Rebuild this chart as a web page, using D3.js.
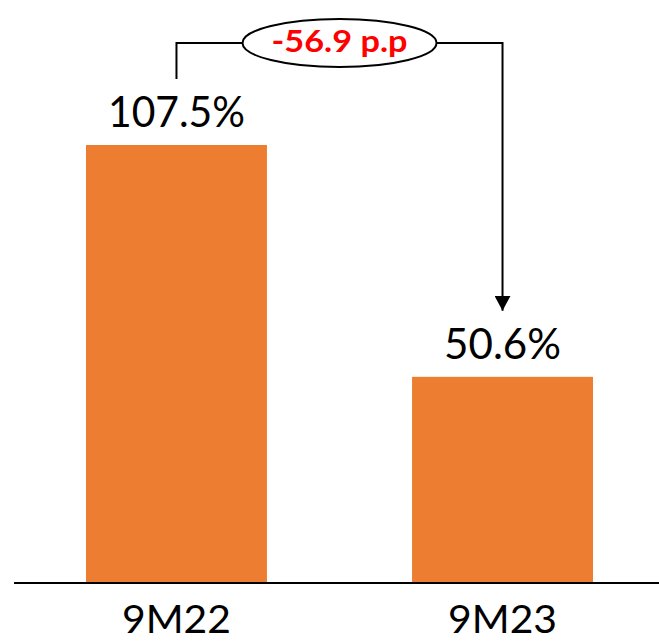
<!DOCTYPE html>
<html>
<head>
<meta charset="utf-8">
<script src="https://cdn.jsdelivr.net/npm/d3@7"></script>
<style>
  html, body { margin: 0; padding: 0; background: #fff; }
  svg { display: block; }
</style>
</head>
<body>
<svg id="chart" width="659" height="642"></svg>
<script>
// Data
const categories = ["9M22", "9M23"];
const values = [107.5, 50.6];
const valueLabels = ["107.5%", "50.6%"];
const changeLabel = "-56.9 p.p";

const W = 659, H = 642;
const baseY = 583;
const svg = d3.select("#chart");

const x = d3.scaleBand()
  .domain(categories)
  .range([13, 666])
  .paddingInner(0.445)
  .paddingOuter(0.2239);

const y = d3.scaleLinear()
  .domain([0, 143.09])
  .range([baseY, 0]);

const font = "Lato, 'Noto Sans', sans-serif";

// Bars
svg.selectAll("rect.bar")
  .data(values)
  .join("rect")
  .attr("class", "bar")
  .attr("x", (d, i) => x(categories[i]))
  .attr("width", x.bandwidth())
  .attr("y", d => y(d))
  .attr("height", d => y(0) - y(d))
  .attr("fill", "#ED7D31");

// Baseline
svg.append("line")
  .attr("x1", 14).attr("x2", W)
  .attr("y1", baseY).attr("y2", baseY)
  .attr("stroke", "#000").attr("stroke-width", 2);

// Category labels
const xAxis = d3.axisBottom(x).tickSize(0).tickPadding(0);
const gx = svg.append("g").attr("transform", `translate(0,${baseY})`).call(xAxis);
gx.select(".domain").remove();
gx.selectAll("text")
  .attr("y", 50)
  .attr("dy", 0)
  .attr("font-family", font)
  .attr("font-size", 39)
  .attr("fill", "#000")
  .attr("textLength", 109)
  .attr("lengthAdjust", "spacingAndGlyphs");

// Value labels
const labelWidths = [137, 117];
svg.selectAll("text.val")
  .data(values)
  .join("text")
  .attr("class", "val")
  .attr("x", (d, i) => x(categories[i]) + x.bandwidth() / 2)
  .attr("y", d => y(d) - 18)
  .attr("text-anchor", "middle")
  .attr("font-family", font)
  .attr("font-size", 43)
  .attr("fill", "#000")
  .attr("textLength", (d, i) => labelWidths[i])
  .attr("lengthAdjust", "spacingAndGlyphs")
  .text((d, i) => valueLabels[i]);

// Change annotation: bracket from first bar label to arrow on second
const cx0 = x(categories[0]) + x.bandwidth() / 2;
const cx1 = x(categories[1]) + x.bandwidth() / 2;
const topY = 43;
const ex = (cx0 + cx1) / 2, rx = 97, ry = 24;
const leftBottom = y(values[0]) - 66;
const arrowTip = y(values[1]) - 66;

svg.append("defs").append("marker")
  .attr("id", "arrowhead")
  .attr("viewBox", "0 0 16 15")
  .attr("refX", 8).attr("refY", 15)
  .attr("markerWidth", 16).attr("markerHeight", 15)
  .attr("markerUnits", "userSpaceOnUse")
  .attr("orient", "0")
  .append("path")
  .attr("d", "M0,0 L16,0 L8,15 Z")
  .attr("fill", "#000");

svg.append("path")
  .attr("d", `M${cx0},${leftBottom} V${topY} H${ex - rx}`)
  .attr("fill", "none").attr("stroke", "#000").attr("stroke-width", 2);

svg.append("path")
  .attr("d", `M${ex + rx},${topY} H${cx1} V${arrowTip}`)
  .attr("fill", "none").attr("stroke", "#000").attr("stroke-width", 2)
  .attr("marker-end", "url(#arrowhead)");

svg.append("ellipse")
  .attr("cx", ex).attr("cy", topY)
  .attr("rx", rx).attr("ry", ry)
  .attr("fill", "#fff").attr("stroke", "#000").attr("stroke-width", 2);

svg.append("text")
  .attr("x", ex)
  .attr("y", 52)
  .attr("text-anchor", "middle")
  .attr("font-family", font)
  .attr("font-weight", "bold")
  .attr("font-size", 30)
  .attr("fill", "#FF0000")
  .attr("textLength", 136)
  .attr("lengthAdjust", "spacingAndGlyphs")
  .text(changeLabel);
</script>
</body>
</html>
